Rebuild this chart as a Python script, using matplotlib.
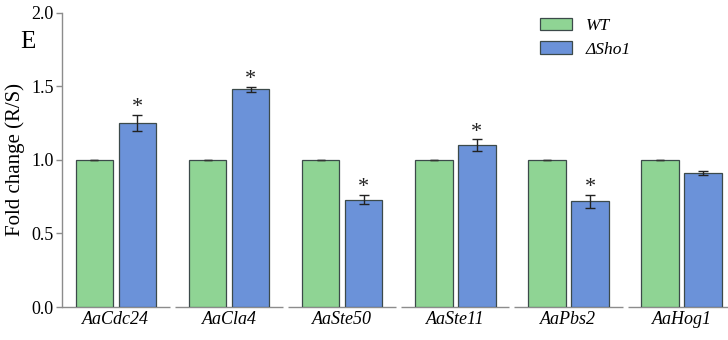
import matplotlib
matplotlib.use("Agg")
import matplotlib.pyplot as plt
import numpy as np
from matplotlib.patches import Patch

genes = ["AaCdc24", "AaCla4", "AaSte50", "AaSte11", "AaPbs2", "AaHog1"]
wt_values = [1.0, 1.0, 1.0, 1.0, 1.0, 1.0]
wt_errors = [0.0, 0.0, 0.0, 0.0, 0.0, 0.0]
mut_values = [1.25, 1.48, 0.73, 1.10, 0.72, 0.91]
mut_errors = [0.055, 0.015, 0.03, 0.04, 0.045, 0.012]
significant = [True, True, True, True, True, False]
series_labels = ["WT", "ΔSho1"]

green = "#8fd494"
blue = "#6b92d9"
edge = "#3c4a4a"
axis_gray = "#8c8c8c"

plt.rcParams["font.family"] = ["Liberation Serif", "DejaVu Serif"]

fig = plt.figure(figsize=(7.28, 3.4), dpi=100)
ax = fig.add_axes([0.085, 0.097, 0.915, 0.865])

x = np.arange(len(genes))
w = 0.33
off = 0.19

ax.bar(x - off, wt_values, w, color=green, edgecolor=edge, linewidth=0.9,
       yerr=wt_errors, error_kw=dict(ecolor="#333333", elinewidth=1, capsize=3, capthick=1))
ax.bar(x + off, mut_values, w, color=blue, edgecolor=edge, linewidth=0.9,
       yerr=mut_errors, error_kw=dict(ecolor="#222222", elinewidth=1, capsize=3.5, capthick=1))

for xi, v, e, s in zip(x, mut_values, mut_errors, significant):
    if s:
        ax.text(xi + off, v + e + 0.05, "*", ha="center", va="center",
                fontsize=16, color="#222222")

# segmented baseline under each gene group
for xi in x:
    ax.plot([xi - 0.478, xi + 0.478], [0, 0], color=axis_gray, lw=1.0,
            solid_capstyle="butt", clip_on=False, zorder=0.5)

ax.set_xlim(-0.478, 5.41)
ax.set_ylim(0, 2.0)
ax.set_yticks([0, 0.5, 1.0, 1.5, 2.0])
ax.set_yticklabels(["0.0", "0.5", "1.0", "1.5", "2.0"])
ax.set_xticks(x)
ax.set_xticklabels(genes, fontstyle="italic", fontsize=13)
ax.tick_params(axis="x", length=0, pad=3)
ax.tick_params(axis="y", labelsize=13, length=4, width=1, color=axis_gray, pad=2)

for side in ["top", "right", "bottom"]:
    ax.spines[side].set_visible(False)
ax.spines["left"].set_color(axis_gray)
ax.spines["left"].set_linewidth(1.0)

ax.set_ylabel("Fold change (R/S)", fontsize=15, labelpad=4)
fig.text(0.028, 0.86, "E", fontsize=18)

handles = [Patch(facecolor=green, edgecolor=edge, linewidth=0.9),
           Patch(facecolor=blue, edgecolor=edge, linewidth=0.9)]
ax.legend(handles, series_labels, loc="upper left", bbox_to_anchor=(0.695, 1.035),
          frameon=False, prop=dict(style="italic", size=12.5),
          handlelength=1.8, handleheight=0.7, handletextpad=0.8, labelspacing=0.4)

fig.savefig("out.png", dpi=100)
